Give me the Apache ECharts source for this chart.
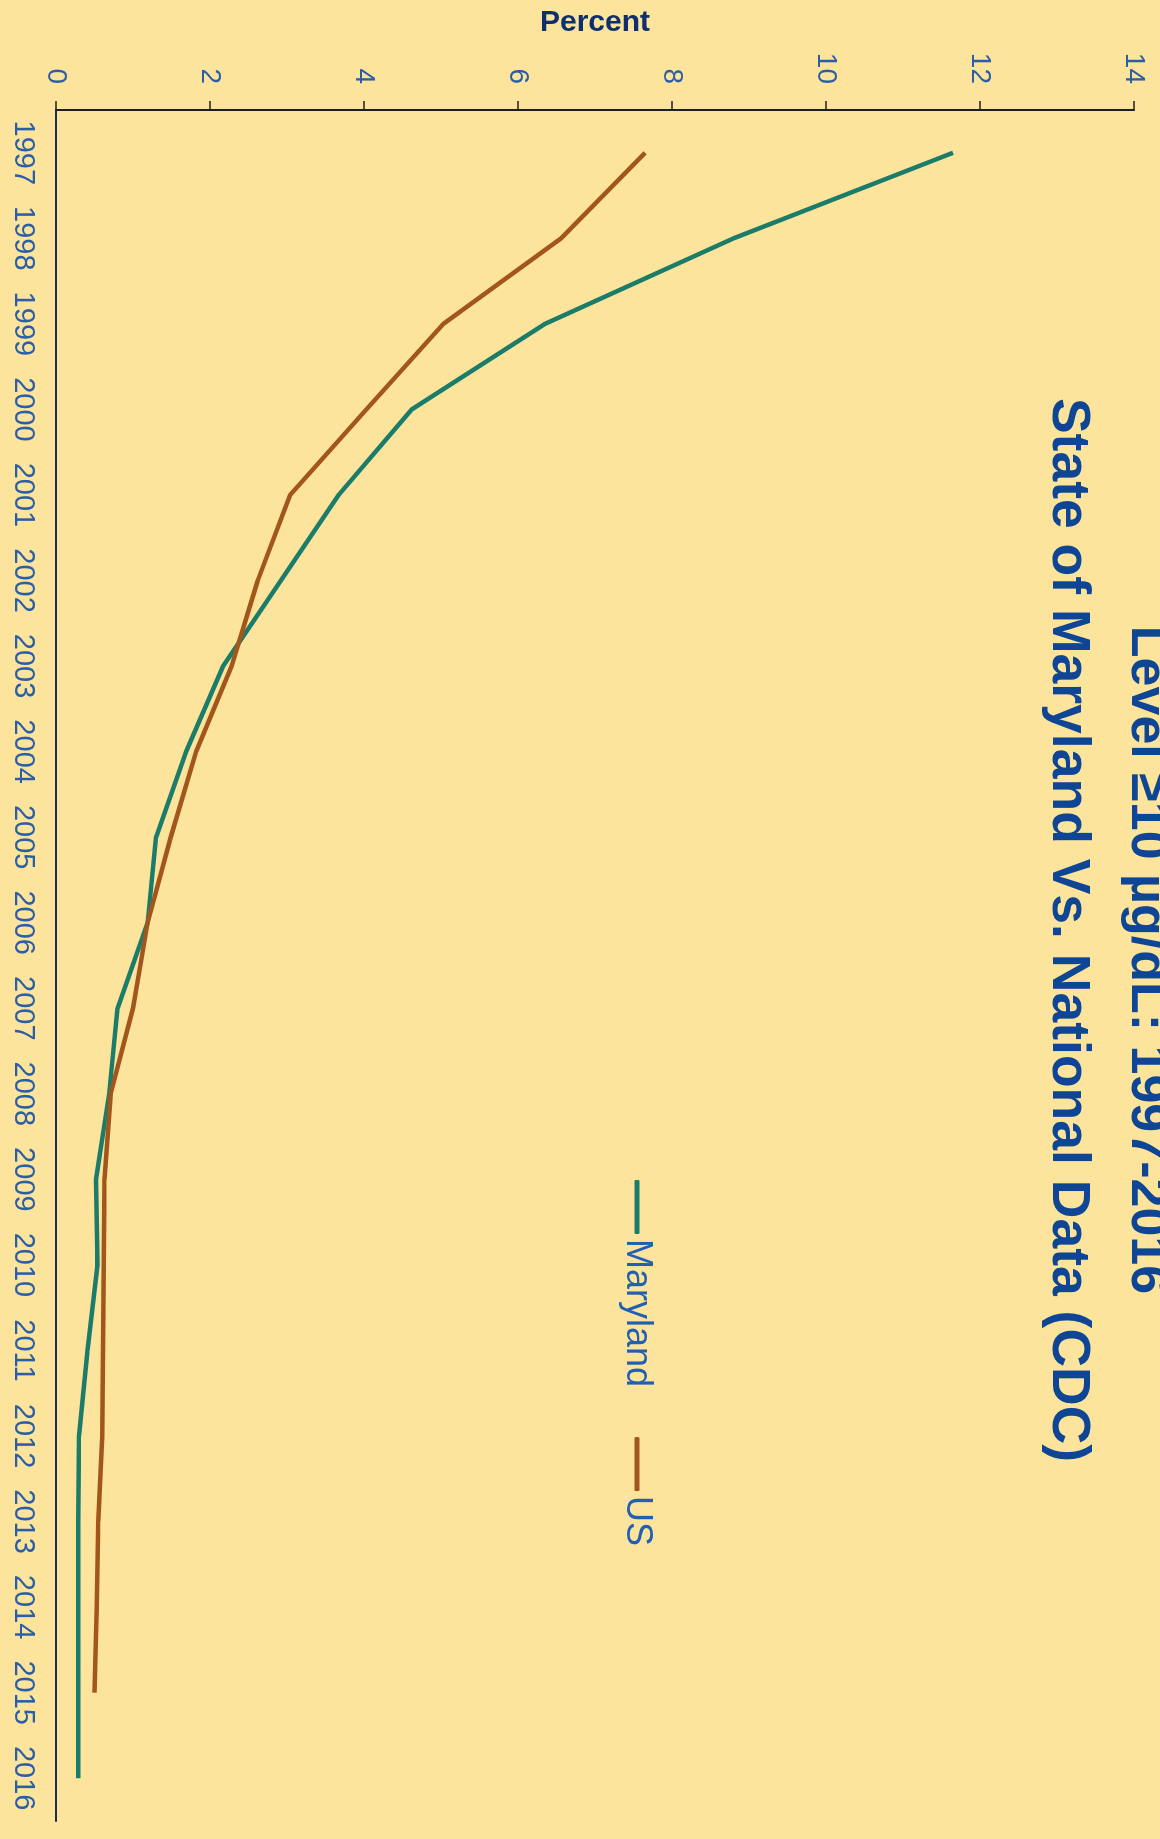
<!DOCTYPE html>
<html>
<head>
<meta charset="utf-8">
<script src="https://cdn.jsdelivr.net/npm/echarts@6/dist/echarts.min.js"></script>
<style>
  html, body { margin: 0; padding: 0; width: 1160px; height: 1839px; overflow: hidden; background: #fce49c; }
  #chart { position: absolute; left: 0; top: 0; width: 1839px; height: 1160px;
           transform-origin: 0 0; transform: translate(1160px, 0) rotate(90deg); }
</style>
</head>
<body>
<div id="chart"></div>
<script>
const years = ['1997','1998','1999','2000','2001','2002','2003','2004','2005','2006',
               '2007','2008','2009','2010','2011','2012','2013','2014','2015','2016'];
const maryland = [11.65, 8.8, 6.35, 4.62, 3.67, 2.92, 2.17, 1.69, 1.3, 1.19,
                  0.8, 0.69, 0.52, 0.54, 0.41, 0.3, 0.29, 0.29, 0.29, 0.29];
const us = [7.65, 6.56, 5.03, 4.03, 3.04, 2.62, 2.28, 1.82, 1.49, 1.19,
            1.0, 0.71, 0.63, 0.62, 0.61, 0.6, 0.55, 0.53, 0.5, null];
const titleLine1 = 'Level \u226510 \u00b5g/dL: 1997-2016';
const titleLine2 = 'State of Maryland Vs. National Data (CDC)';
const valueTicks = { min: 0, max: 14, interval: 2 };

const FONT = '"Liberation Sans", Arial, Helvetica, sans-serif';
const chart = echarts.init(document.getElementById('chart'), null, { renderer: 'canvas' });
chart.setOption({
  animation: false,
  backgroundColor: '#fce49c',
  textStyle: { fontFamily: FONT },
  graphic: [
    { type: 'text', x: 960, y: 14, style: { text: titleLine1, fontFamily: FONT, fontWeight: 'bold', fontSize: 52, fill: '#0e4595', align: 'center', verticalAlign: 'middle' } },
    { type: 'text', x: 930, y: 92, style: { text: titleLine2, fontFamily: FONT, fontWeight: 'bold', fontSize: 53.5, fill: '#0e4595', align: 'center', verticalAlign: 'middle' } }
  ],
  legend: {
    left: 1175, top: 500,
    icon: 'roundRect', itemWidth: 54, itemHeight: 5, itemGap: 50,
    textStyle: { fontSize: 36, color: '#1f5fb4', fontFamily: FONT },
    data: ['Maryland', 'US']
  },
  grid: { left: 101, right: 18, top: 26, bottom: 56, containLabel: false },
  xAxis: {
    type: 'category', data: years, boundaryGap: true,
    axisLine: { lineStyle: { color: '#1c2b50', width: 2 } },
    axisTick: { alignWithLabel: true, inside: true, length: 6, lineStyle: { color: '#2a2f45', width: 1.5 } },
    axisLabel: { fontSize: 29, color: '#2a5ea8', margin: 18, fontFamily: FONT, interval: 0 }
  },
  yAxis: {
    type: 'value', min: valueTicks.min, max: valueTicks.max, interval: valueTicks.interval,
    name: 'Percent', nameLocation: 'middle', nameGap: 72, nameRotate: 90,
    nameTextStyle: { fontSize: 30, fontWeight: 'bold', color: '#0d2f6e', fontFamily: FONT },
    axisLine: { show: true, lineStyle: { color: '#1e1e1e', width: 2 } },
    axisTick: { show: true, length: 9, lineStyle: { color: '#1e1e1e', width: 1.5 } },
    axisLabel: { fontSize: 28, color: '#2a5ea8', margin: 26, fontFamily: FONT },
    splitLine: { show: false }
  },
  series: [
    { name: 'Maryland', type: 'line', data: maryland, showSymbol: false, symbol: 'none',
      lineStyle: { color: '#1b7d69', width: 4.5 }, itemStyle: { color: '#1b7d69' } },
    { name: 'US', type: 'line', data: us, showSymbol: false, symbol: 'none',
      lineStyle: { color: '#a3561c', width: 4.5 }, itemStyle: { color: '#a3561c' } }
  ]
});
</script>
</body>
</html>
